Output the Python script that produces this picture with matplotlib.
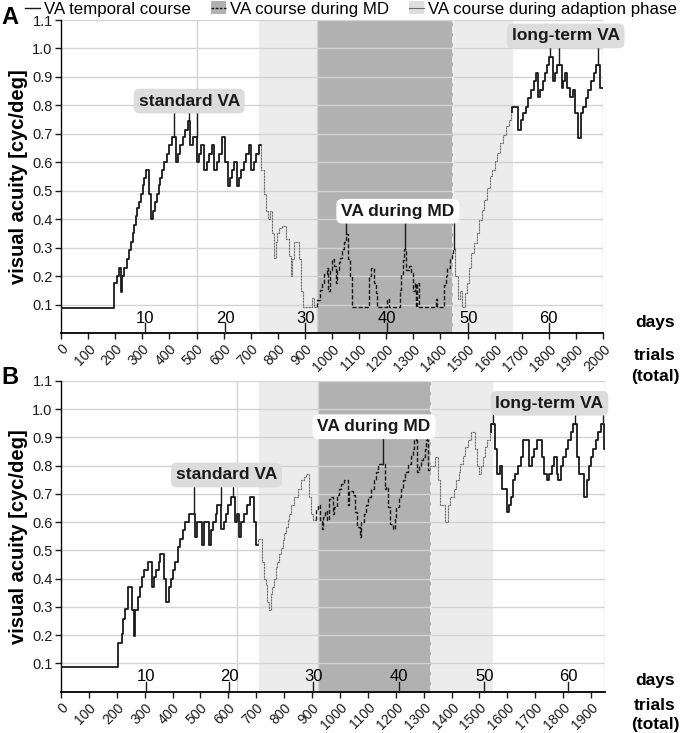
import matplotlib
matplotlib.use("Agg")
import matplotlib.pyplot as plt
from matplotlib.patches import Patch
from matplotlib.lines import Line2D
import numpy as np

plt.rcParams['font.family'] = ['Liberation Sans', 'DejaVu Sans']

# ------------------------- Panel A data -------------------------
A_pre_t = [0, 196, 206, 214, 221, 225, 233, 243, 251, 258, 264, 270, 277, 282, 288, 294, 301, 307, 313, 325,
           333, 341, 347, 354, 360, 366, 372, 381, 391, 399, 409, 424, 431, 440, 449, 458, 467, 477, 487, 501,
           510, 518, 529, 539, 547, 557, 566, 576, 584, 594, 606, 615, 625, 631, 640, 649, 658, 665, 674, 684,
           692, 702, 711, 720, 730]
A_pre_v = [0.087, 0.174, 0.2, 0.23, 0.145, 0.2, 0.23, 0.26, 0.29, 0.32, 0.35, 0.38, 0.41, 0.44, 0.46, 0.49, 0.52, 0.545, 0.574, 0.49,
           0.4, 0.43, 0.46, 0.49, 0.52, 0.545, 0.574, 0.6, 0.63, 0.66, 0.69, 0.6, 0.63, 0.66, 0.69, 0.715, 0.745, 0.66, 0.69, 0.6,
           0.63, 0.66, 0.574, 0.6, 0.63, 0.66, 0.574, 0.6, 0.63, 0.69, 0.6, 0.515, 0.545, 0.574, 0.6, 0.515, 0.545, 0.574, 0.6, 0.63,
           0.66, 0.574, 0.6, 0.63, 0.66]
A_ad1_t = [738, 748, 758, 765, 773, 779, 787, 792, 797, 806, 815, 832, 840, 847, 853, 859, 869, 877, 884, 893, 927, 933]
A_ad1_v = [0.574, 0.49, 0.43, 0.4, 0.43, 0.35, 0.265, 0.32, 0.35, 0.37, 0.375, 0.33, 0.27, 0.2, 0.26, 0.32, 0.32, 0.26, 0.147, 0.09, 0.123, 0.09]
A_md_t = [945, 957, 964, 970, 980, 986, 994, 1001, 1007, 1013, 1019, 1025, 1031, 1038, 1044, 1050, 1059, 1066, 1075,
          1136, 1145, 1155, 1161, 1167, 1204, 1210, 1251, 1256, 1262, 1266, 1272, 1284, 1293, 1299, 1305, 1311,
          1315, 1321, 1383, 1389, 1413, 1420, 1426, 1434, 1441, 1447]
A_md_v = [0.117, 0.15, 0.176, 0.206, 0.23, 0.147, 0.22, 0.26, 0.235, 0.176, 0.22, 0.25, 0.265, 0.294, 0.32, 0.347, 0.26, 0.2, 0.09,
          0.2, 0.23, 0.176, 0.141, 0.09, 0.118, 0.09, 0.15, 0.208, 0.255, 0.294, 0.223, 0.235, 0.21, 0.147, 0.176, 0.09,
          0.176, 0.09, 0.118, 0.09, 0.17, 0.2, 0.23, 0.26, 0.28, 0.294]
A_ad2_t = [1453, 1465, 1472, 1481, 1490, 1497, 1506, 1514, 1524, 1534, 1543, 1555, 1561, 1571, 1583, 1592, 1601, 1610,
           1620, 1631, 1641, 1654, 1662]
A_ad2_v = [0.2, 0.118, 0.147, 0.09, 0.141, 0.176, 0.229, 0.281, 0.316, 0.351, 0.398, 0.433, 0.468, 0.509, 0.55, 0.574,
           0.603, 0.632, 0.667, 0.696, 0.726, 0.749, 0.778]
A_post_t = [1666, 1687, 1697, 1703, 1715, 1724, 1734, 1744, 1752, 1761, 1768, 1777, 1787, 1795, 1802, 1814, 1822, 1832,
            1847, 1853, 1859, 1869, 1879, 1888, 1898, 1906, 1919, 1928, 1937, 1946, 1956, 1965, 1974, 1990]
A_post_v = [0.796, 0.714, 0.749, 0.772, 0.796, 0.825, 0.854, 0.884, 0.913, 0.831, 0.854, 0.884, 0.913, 0.942, 0.971, 0.884, 0.913, 0.942,
            0.86, 0.884, 0.913, 0.86, 0.831, 0.854, 0.772, 0.685, 0.772, 0.796, 0.825, 0.854, 0.884, 0.913, 0.942, 0.86]

A_light1 = (732, 943)
A_dark = (943, 1446)
A_light2 = (1446, 1667)
A_vgrid = [500, 943, 2000]
A_md_end = 1446
A_xmax = 2000
A_trial_ticks = list(range(0, 2001, 100))
A_day_labels = [10, 20, 30, 40, 50, 60]
A_day_pos = [309, 606, 902, 1203, 1503, 1800]
A_ann_std = [418, 474, 500]
A_ann_md = [1053, 1268, 1449]
A_ann_lt = [1806, 1836, 1982]
A_box_std = (473, 0.815)
A_box_md = (1243, 0.428)
A_box_lt = (1862, 1.044)

# ------------------------- Panel B data -------------------------
B_pre_t = [0, 204, 218, 224, 230, 239, 254, 260, 266, 275, 282, 290, 299, 311, 326, 335, 342, 350, 356, 371,
           378, 386, 394, 402, 410, 420, 428, 438, 446, 458, 482, 488, 504, 512, 530, 536, 545, 554, 560, 574,
           584, 590, 598, 608, 622, 632, 638, 646, 656, 665, 676, 692, 698]
B_pre_v = [0.086, 0.171, 0.204, 0.257, 0.293, 0.37, 0.287, 0.198, 0.287, 0.334, 0.37, 0.405, 0.429, 0.459, 0.37, 0.405, 0.429, 0.459, 0.488, 0.4,
           0.317, 0.37, 0.4, 0.429, 0.459, 0.512, 0.541, 0.571, 0.6, 0.63, 0.547, 0.6, 0.518, 0.6, 0.518, 0.571, 0.6, 0.63, 0.66, 0.577,
           0.6, 0.63, 0.66, 0.689, 0.6, 0.63, 0.547, 0.6, 0.63, 0.66, 0.689, 0.6, 0.518]
B_ad1_t = [706, 722, 728, 734, 740, 746, 752, 758, 764, 770, 776, 782, 788, 794, 800, 806, 812, 818, 824, 836,
           848, 860, 872, 878, 890, 896, 904]
B_ad1_v = [0.541, 0.459, 0.4, 0.376, 0.317, 0.287, 0.346, 0.37, 0.4, 0.44, 0.46, 0.488, 0.51, 0.535, 0.56, 0.582, 0.606, 0.63, 0.659, 0.689,
           0.718, 0.748, 0.76, 0.771, 0.689, 0.63, 0.606]
B_md_t = [914, 920, 928, 934, 940, 946, 953, 962, 968, 974, 980, 988, 998, 1004, 1016, 1028, 1034, 1046, 1054, 1061,
          1070, 1076, 1085, 1094, 1102, 1112, 1121, 1130, 1138, 1160, 1166, 1172, 1181, 1190, 1196, 1202, 1210, 1217, 1226, 1234,
          1244, 1253, 1261, 1267, 1277, 1282, 1289, 1297, 1306, 1309, 1315]
B_md_v = [0.647, 0.659, 0.606, 0.576, 0.618, 0.641, 0.606, 0.683, 0.689, 0.63, 0.653, 0.695, 0.718, 0.736, 0.748, 0.659, 0.712, 0.695, 0.635, 0.582,
          0.547, 0.6, 0.63, 0.659, 0.689, 0.718, 0.748, 0.777, 0.807, 0.718, 0.724, 0.653, 0.594, 0.576, 0.618, 0.653, 0.689, 0.718, 0.748, 0.777,
          0.807, 0.836, 0.86, 0.89, 0.777, 0.8, 0.819, 0.83, 0.86, 0.89, 0.783]
B_ad2_t = [1321, 1339, 1351, 1357, 1375, 1387, 1393, 1408, 1417, 1425, 1432, 1441, 1449, 1459, 1468, 1483, 1490, 1497,
           1507, 1513, 1521, 1528, 1537]
B_ad2_v = [0.8, 0.83, 0.748, 0.659, 0.6, 0.659, 0.689, 0.718, 0.748, 0.777, 0.807, 0.836, 0.866, 0.89, 0.919, 0.86, 0.8, 0.771,
           0.8, 0.83, 0.866, 0.89, 0.919]
B_post_t = [1543, 1555, 1564, 1573, 1579, 1597, 1605, 1612, 1621, 1629, 1639, 1648, 1657, 1677, 1687, 1696, 1705, 1723, 1732, 1741,
            1749, 1759, 1768, 1777, 1783, 1792, 1800, 1809, 1819, 1828, 1837, 1849, 1857, 1876, 1885, 1893, 1901, 1908, 1917, 1926,
            1936, 1948]
B_post_v = [0.949, 0.86, 0.771, 0.8, 0.718, 0.635, 0.659, 0.689, 0.748, 0.771, 0.8, 0.83, 0.89, 0.8, 0.83, 0.86, 0.89, 0.83, 0.771, 0.748,
            0.771, 0.8, 0.83, 0.771, 0.748, 0.8, 0.83, 0.86, 0.89, 0.919, 0.949, 0.83, 0.771, 0.689, 0.748, 0.8, 0.83, 0.86, 0.89, 0.919,
            0.949, 0.86]

B_light1 = (709, 922)
B_dark = (922, 1326)
B_light2 = (1326, 1550)
B_vgrid = [630, 922, 1950]
B_md_end = 1326
B_xmax = 1950
B_trial_ticks = list(range(0, 1901, 100))
B_day_labels = [10, 20, 30, 40, 50, 60]
B_day_pos = [303, 602, 904, 1210, 1517, 1819]
B_ann_std = [475, 572, 617]
B_ann_md = [1155, 1273, 1312]
B_ann_lt = [1550, 1843, 1942]
B_box_std = (593, 0.767)
B_box_md = (1122, 0.938)
B_box_lt = (1751, 1.021)

# ------------------------- styles -------------------------
LIGHT = '#ececec'
DARK = '#b1b1b1'
GRID = '#d3d3d3'
STY = {
    'solid': dict(color='#1a1a1a', lw=1.3, ls='-'),
    'md': dict(color='#1a1a1a', lw=1.0, ls=(0, (3, 1.4))),
    'adapt': dict(color='#6a6a6a', lw=0.8, ls=(0, (2, 0.7))),
}

W, H = 681, 733
fig = plt.figure(figsize=(W / 100, H / 100), dpi=100)


def px_axes(l, r, t, b):
    return fig.add_axes([l / W, 1 - b / H, (r - l) / W, (b - t) / H])


def value_at(ts, vs, t):
    i = int(np.searchsorted(ts, t, side='right')) - 1
    return vs[max(i, 0)]


def draw_panel(ax, phases, light1, dark, light2, vgrid, md_end, xmax, tticks,
               dlabels, dpos, anns, boxes):
    ax.set_xlim(0, xmax)
    ax.set_ylim(0, 1.1)
    ax.axvspan(*light1, color=LIGHT, lw=0, zorder=0)
    ax.axvspan(*dark, color=DARK, lw=0, zorder=0)
    ax.axvspan(*light2, color=LIGHT, lw=0, zorder=0)
    for yv in np.arange(0.1, 1.11, 0.1):
        ax.axhline(yv, color=GRID, lw=1.0, zorder=1)
    for xv in vgrid:
        ax.axvline(xv, color=GRID, lw=1.0, zorder=1)
    ax.axvline(md_end, color='#f2f2f2', lw=1.2, ls=(0, (4, 2)), zorder=1.5)

    all_t, all_v = [], []
    prev_v = None
    for k, (ts, vs, st) in enumerate(phases):
        nxt = phases[k + 1][0][0] if k + 1 < len(phases) else xmax
        xs = list(ts) + [nxt]
        ys = list(vs) + [vs[-1]]
        if prev_v is not None:
            xs = [ts[0]] + xs
            ys = [prev_v] + ys
        ax.plot(xs, ys, drawstyle='steps-post', zorder=3, **STY[st])
        prev_v = vs[-1]
        all_t += list(ts)
        all_v += list(vs)

    # annotations
    for (xc, yc, txt, fc), targets in zip(boxes, anns):
        ax.text(xc, yc, txt, ha='center', va='center', fontsize=12.5, fontweight='bold',
                color='#1a1a1a', zorder=6,
                bbox=dict(boxstyle='round,pad=0.28,rounding_size=0.35', fc=fc, ec='none'))
        for tt in targets:
            v = value_at(all_t, all_v, tt)
            ax.plot([tt, tt], [v, yc - 0.035], color='#1a1a1a', lw=1.0, zorder=5)

    # axes styling
    for s in ['top', 'right']:
        ax.spines[s].set_visible(False)
    ax.spines['left'].set_linewidth(1.0)
    ax.spines['bottom'].set_linewidth(1.3)
    ax.set_yticks(np.round(np.arange(0.1, 1.11, 0.1), 1))
    ax.set_yticklabels([f'{v:.1f}' for v in np.arange(0.1, 1.11, 0.1)])
    ax.set_xticks(tticks)
    ax.set_xticklabels([str(v) for v in tticks], rotation=45, ha='right',
                       rotation_mode='anchor')
    ax.tick_params(axis='both', length=4, width=1.0, pad=2, colors='#1a1a1a')
    ax.tick_params(axis='y', labelsize=10.5)
    ax.tick_params(axis='x', labelsize=10, pad=2.5)
    ax.set_ylabel('visual acuity [cyc/deg]', fontsize=14.5, fontweight='bold', labelpad=3)

    # day axis inside the plot
    for d, p in zip(dlabels, dpos):
        ax.plot([p, p], [0, 0.035], color='#1a1a1a', lw=1.0, zorder=4, clip_on=False)
        ax.text(p, 0.052, str(d), ha='center', va='center', fontsize=12, zorder=4)


axA = px_axes(61, 603, 20, 333)
draw_panel(axA,
           [(A_pre_t, A_pre_v, 'solid'), (A_ad1_t, A_ad1_v, 'adapt'), (A_md_t, A_md_v, 'md'),
            (A_ad2_t, A_ad2_v, 'adapt'), (A_post_t, A_post_v, 'solid')],
           A_light1, A_dark, A_light2, A_vgrid, A_md_end, A_xmax, A_trial_ticks,
           A_day_labels, A_day_pos, [A_ann_std, A_ann_md, A_ann_lt],
           [(A_box_std[0], A_box_std[1], 'standard VA', '#dcdcdc'),
            (A_box_md[0], A_box_md[1], 'VA during MD', 'white'),
            (A_box_lt[0], A_box_lt[1], 'long-term VA', '#dcdcdc')])

axB = px_axes(61, 605, 381, 691.5)
draw_panel(axB,
           [(B_pre_t, B_pre_v, 'solid'), (B_ad1_t, B_ad1_v, 'adapt'), (B_md_t, B_md_v, 'md'),
            (B_ad2_t, B_ad2_v, 'adapt'), (B_post_t, B_post_v, 'solid')],
           B_light1, B_dark, B_light2, B_vgrid, B_md_end, B_xmax, B_trial_ticks,
           B_day_labels, B_day_pos, [B_ann_std, B_ann_md, B_ann_lt],
           [(B_box_std[0], B_box_std[1], 'standard VA', '#dcdcdc'),
            (B_box_md[0], B_box_md[1], 'VA during MD', 'white'),
            (B_box_lt[0], B_box_lt[1], 'long-term VA', '#dcdcdc')])

# right-hand axis captions
for y_days, y_trials, y_total in [(322, 355, 376), (680, 705, 724)]:
    fig.text(655 / W, 1 - y_days / H, 'days', ha='center', va='center', fontsize=12.5, fontweight='bold')
    fig.text(655 / W, 1 - y_trials / H, 'trials', ha='center', va='center', fontsize=12.5, fontweight='bold')
    fig.text(655 / W, 1 - y_total / H, '(total)', ha='center', va='center', fontsize=12.5, fontweight='bold')

# panel letters
fig.text(1 / W, 1 - 17 / H, 'A', ha='left', va='center', fontsize=17, fontweight='bold')
fig.text(1 / W, 1 - 378 / H, 'B', ha='left', va='center', fontsize=17, fontweight='bold')

# legend
handles = [Line2D([], [], color='#1a1a1a', lw=1.0),
           (Patch(fc=DARK, ec='none'), Line2D([], [], color='#1a1a1a', lw=1.0, ls=(0, (2, 1)))),
           (Patch(fc='#dedede', ec='none'), Line2D([], [], color='#6a6a6a', lw=0.8))]
labels = ['VA temporal course', 'VA course during MD', 'VA course during adaption phase']
fig.legend(handles, labels, loc='center left', bbox_to_anchor=(25 / W, 1 - 9 / H), ncol=3,
           frameon=False, fontsize=12.2, handlelength=0.9, handleheight=0.8, handletextpad=0.25,
           columnspacing=1.15, borderaxespad=0, borderpad=0)

fig.savefig('out.png', dpi=100)
